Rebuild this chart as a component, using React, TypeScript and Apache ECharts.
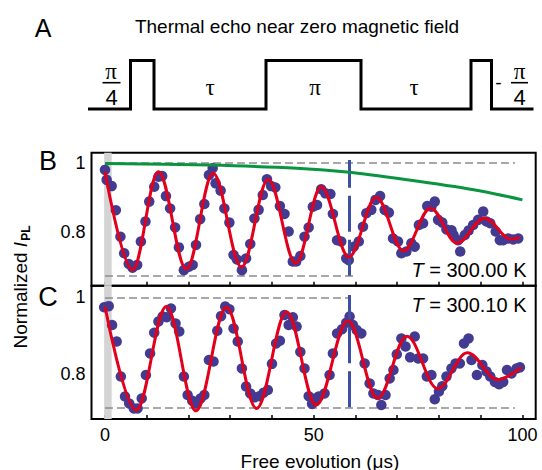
import React, { useEffect, useRef } from 'react';
import * as echarts from 'echarts';

const FONT = '"Liberation Sans", Arial, Helvetica, sans-serif';
const SERIF = '"Liberation Serif", "DejaVu Serif", "Times New Roman", serif';

// Axis ticks and labels
const xTicks = [0, 10, 20, 30, 40, 50, 60, 70, 80, 90, 100];
const xLabels = [0, 50, 100];
const yTicks = [0.7, 0.8, 0.9, 1.0];
const yLabels = [0.8, 1.0];

// Panel B (T = 300.00 K): measured points [time (µs), normalized I_PL]
const panelBPoints: [number, number][] = [
  [0.0, 0.979], [0.4, 0.95], [1.6, 0.932], [2.6, 0.862], [3.7, 0.785], [4.6, 0.737], [5.7, 0.706], [6.6, 0.695], [7.7, 0.703], [8.6, 0.771],
  [9.7, 0.829], [10.6, 0.887], [11.8, 0.93], [12.8, 0.959], [13.7, 0.961], [14.6, 0.903], [15.6, 0.867], [16.8, 0.812], [17.7, 0.754], [18.9, 0.688],
  [20.1, 0.698], [21.0, 0.703], [21.8, 0.761], [22.8, 0.836], [23.8, 0.88], [24.9, 0.964], [25.8, 0.984], [26.5, 0.94], [27.7, 0.919], [28.6, 0.867],
  [29.8, 0.826], [30.8, 0.732], [31.6, 0.719], [32.8, 0.688], [33.8, 0.722], [34.8, 0.764], [35.8, 0.838], [36.8, 0.863], [37.8, 0.906], [38.8, 0.952],
  [39.8, 0.932], [40.8, 0.928], [41.9, 0.874], [43.0, 0.851], [44.0, 0.8], [45.0, 0.713], [45.8, 0.713], [46.8, 0.729], [47.8, 0.785], [48.8, 0.812],
  [49.8, 0.872], [50.8, 0.877], [51.8, 0.923], [52.8, 0.911], [54.0, 0.909], [54.6, 0.851], [55.6, 0.775], [56.6, 0.771], [57.8, 0.722], [58.4, 0.717],
  [59.6, 0.756], [60.8, 0.771], [61.8, 0.814], [62.6, 0.853], [63.8, 0.863], [64.8, 0.892], [65.9, 0.903], [67.0, 0.863], [68.0, 0.855], [69.0, 0.78],
  [70.2, 0.771], [71.0, 0.737], [72.2, 0.742], [73.4, 0.766], [74.2, 0.756], [75.2, 0.819], [76.2, 0.824], [77.2, 0.874], [78.2, 0.872], [79.0, 0.887],
  [79.8, 0.834], [80.8, 0.826], [81.8, 0.806], [83.0, 0.804], [83.5, 0.79], [84.6, 0.775], [85.1, 0.742], [86.2, 0.79], [87.1, 0.803], [88.2, 0.819],
  [89.4, 0.834], [90.6, 0.858], [91.4, 0.829], [92.3, 0.824], [93.6, 0.8], [94.6, 0.775], [95.4, 0.775], [96.6, 0.78], [97.8, 0.777], [99.0, 0.78],
];

// Panel C (T = 300.10 K): measured points
const panelCPoints: [number, number][] = [
  [-0.2, 0.974], [0.9, 0.977], [1.7, 0.928], [2.8, 0.885], [3.8, 0.794], [4.8, 0.742], [5.8, 0.724], [6.9, 0.711], [7.8, 0.711], [8.8, 0.737],
  [9.8, 0.798], [10.8, 0.854], [11.8, 0.908], [12.8, 0.937], [13.8, 0.95], [14.8, 0.948], [15.8, 0.971], [16.9, 0.932], [17.8, 0.911], [18.9, 0.794],
  [19.8, 0.746], [20.9, 0.731], [21.8, 0.724], [22.9, 0.737], [23.8, 0.746], [24.9, 0.837], [26.0, 0.833], [26.9, 0.913], [27.8, 0.951], [28.8, 0.976],
  [29.8, 0.969], [30.8, 0.919], [31.8, 0.885], [32.8, 0.815], [33.8, 0.768], [34.8, 0.75], [35.8, 0.74], [37.0, 0.743], [38.0, 0.752], [39.0, 0.759],
  [40.0, 0.827], [41.0, 0.88], [41.9, 0.887], [43.0, 0.954], [44.0, 0.928], [45.0, 0.948], [45.9, 0.924], [46.8, 0.858], [47.8, 0.815], [48.8, 0.743],
  [49.6, 0.723], [50.4, 0.737], [51.2, 0.742], [52.6, 0.75], [53.8, 0.798], [54.6, 0.854], [55.6, 0.906], [56.8, 0.917], [57.8, 0.934], [58.6, 0.95],
  [59.4, 0.928], [60.3, 0.915], [61.4, 0.906], [62.2, 0.828], [63.4, 0.776], [64.3, 0.75], [65.4, 0.746], [66.2, 0.72], [67.2, 0.746], [68.2, 0.789],
  [69.1, 0.811], [69.9, 0.852], [71.0, 0.893], [72.0, 0.872], [73.1, 0.844], [74.2, 0.898], [75.0, 0.841], [76.2, 0.841], [77.1, 0.794], [78.2, 0.798],
  [79.0, 0.735], [80.0, 0.755], [80.8, 0.769], [81.8, 0.794], [83.0, 0.815], [84.0, 0.828], [85.0, 0.828], [86.0, 0.88], [87.1, 0.893], [87.8, 0.837],
  [89.1, 0.798], [90.4, 0.824], [91.4, 0.807], [92.3, 0.794], [93.4, 0.78], [94.4, 0.774], [95.4, 0.78], [96.3, 0.811], [97.4, 0.802], [98.6, 0.815], [99.4, 0.818],
];

// Fitted curves: extrema
const panelBFit: [number, number][] = [
  [0, 0.974], [6.6, 0.689], [12.8, 0.974], [19.5, 0.691], [25.9, 0.969], [32.7, 0.697], [39.1, 0.952], [45.7, 0.708],
  [51.8, 0.93], [58.4, 0.726], [65.0, 0.9], [71.5, 0.744], [78.0, 0.868], [84.3, 0.766], [90.9, 0.839], [97.3, 0.778], [99.3, 0.784],
];
const panelCFit: [number, number][] = [
  [0, 0.976], [7.5, 0.707], [14.7, 0.976], [21.8, 0.705], [29.1, 0.974], [36.3, 0.711], [43.5, 0.962], [50.6, 0.72],
  [58.2, 0.939], [65.3, 0.737], [72.3, 0.899], [79.7, 0.763], [86.8, 0.856], [94.1, 0.786], [99.7, 0.818],
];
// Envelope (green) in panel B
const panelBEnvelope: [number, number][] = [
  [0, 0.998], [25, 0.993], [46, 0.984], [58.6, 0.972], [75, 0.946], [90, 0.918], [100, 0.892],
];

// Reference markers
const echoTime = 58.6;
const bandStart = -0.2;
const bandEnd = 1.6;
const panelBDashed = [
  [0, 98.2, 1.0],
  [0, 59.5, 0.672],
];
const panelCDashed = [
  [0, 58.6, 1.0],
  [0, 98.2, 0.713],
];
const panelBEchoSpan = [0.672, 1.008];
const panelCEchoSpan = [0.714, 1.006];

const X_MIN = -3.23;
const X_MAX = 103.18;

export default function App() {
  const ref = useRef<HTMLDivElement>(null);

  useEffect(() => {
    document.body.style.margin = '0';
    if (!ref.current) return;
    const chart = echarts.init(ref.current, undefined, { renderer: 'svg' });

    const xAxis = (gridIndex: number, showLabels: boolean) => ({
      type: 'value',
      gridIndex,
      min: X_MIN,
      max: X_MAX,
      axisLine: { show: false },
      splitLine: { show: false },
      axisTick: {
        show: true,
        inside: true,
        length: 4,
        lineStyle: { color: '#000', width: 1.5 },
        customValues: xTicks,
      },
      axisLabel: {
        show: showLabels,
        customValues: xLabels,
        margin: 7,
        fontSize: 18,
        fontFamily: FONT,
        color: '#000',
        formatter: (v: number) => String(Math.round(v)),
      },
    });
    const yAxis = (gridIndex: number, min: number, max: number) => ({
      type: 'value',
      gridIndex,
      min,
      max,
      axisLine: { show: false },
      splitLine: { show: false },
      axisTick: {
        show: true,
        inside: true,
        length: 4,
        lineStyle: { color: '#000', width: 1.5 },
        customValues: yTicks,
      },
      axisLabel: {
        customValues: yLabels,
        margin: 6,
        fontSize: 18,
        fontFamily: FONT,
        color: '#000',
        formatter: (v: number) => (v > 0.99 ? '1' : v.toFixed(1)),
      },
    });

    const dashedLines = (rows: number[][]) =>
      rows.map((r) => [{ coord: [r[0], r[2]] }, { coord: [r[1], r[2]] }]);

    const panelSeries = (
      idx: number,
      points: [number, number][],
      fit: [number, number][],
      dashed: number[][],
      echoSpan: number[]
    ) => [
      {
        type: 'line',
        xAxisIndex: idx,
        yAxisIndex: idx,
        data: [],
        z: 1,
        silent: true,
        markArea: {
          silent: true,
          z: 1,
          itemStyle: { color: '#d4d4d4' },
          data: [[{ xAxis: bandStart }, { xAxis: bandEnd }]],
        },
        markLine: {
          silent: true,
          z: 2,
          symbol: ['none', 'none'],
          label: { show: false },
          lineStyle: { color: '#8c8c8c', width: 1.6, type: [8, 4] },
          data: dashedLines(dashed),
        },
      },
      {
        type: 'scatter',
        xAxisIndex: idx,
        yAxisIndex: idx,
        data: points,
        symbol: 'circle',
        symbolSize: 10.5,
        z: 3,
        silent: true,
        itemStyle: { color: '#433b91', opacity: 1 },
      },
      {
        type: 'line',
        xAxisIndex: idx,
        yAxisIndex: idx,
        data: [],
        z: 4,
        silent: true,
        markLine: {
          silent: true,
          z: 4,
          symbol: ['none', 'none'],
          label: { show: false },
          lineStyle: { color: '#3d4fa0', width: 3, type: [36, 8] },
          data: [[{ coord: [echoTime, echoSpan[0]] }, { coord: [echoTime, echoSpan[1]] }]],
        },
      },
      {
        type: 'line',
        xAxisIndex: idx,
        yAxisIndex: idx,
        data: fit,
        z: 5,
        silent: true,
        showSymbol: false,
        smooth: 0.36,
        smoothMonotone: 'x',
        lineStyle: { color: '#e3001b', width: 3 },
      },
    ];

    const tempText = (y: number, value: string) => ({
      type: 'text',
      x: 526.5,
      y,
      style: {
        text: '{i|T} = ' + value + ' K',
        rich: {
          i: { fontStyle: 'italic', fontSize: 20, fontFamily: FONT, fill: '#000' },
        },
        fontSize: 20,
        fontFamily: FONT,
        fill: '#000',
        align: 'right',
        textAlign: 'right',
        verticalAlign: 'middle',
        textVerticalAlign: 'middle',
      },
      z: 10,
    });

    const txt = (x: number, y: number, text: string, size: number, family = FONT, extra: any = {}) => ({
      type: 'text',
      x,
      y,
      style: {
        text,
        fontSize: size,
        fontFamily: family,
        fill: '#000',
        align: 'center',
        textAlign: 'center',
        verticalAlign: 'middle',
        textVerticalAlign: 'middle',
        ...extra,
      },
      z: 10,
    });

    const bar = (x1: number, x2: number, y: number) => ({
      type: 'line',
      shape: { x1, y1: y, x2, y2: y },
      style: { stroke: '#000', lineWidth: 1.6 },
      z: 10,
    });

    const pulse = [
      [88, 109], [130.5, 109], [130.5, 60.5], [154, 60.5], [154, 109], [266, 109], [266, 60.5],
      [361, 60.5], [361, 109], [471, 109], [471, 60.5], [491.5, 60.5], [491.5, 109], [533.5, 109],
    ];

    const option: any = {
      animation: false,
      grid: [
        { left: 91.5, right: 6.3, top: 152.7, height: 133, show: true, borderColor: '#000', borderWidth: 2, backgroundColor: 'transparent', containLabel: false, outerBoundsMode: 'none' },
        { left: 91.5, right: 6.3, top: 285.7, height: 133.3, show: true, borderColor: '#000', borderWidth: 2, backgroundColor: 'transparent', containLabel: false, outerBoundsMode: 'none' },
      ],
      xAxis: [xAxis(0, false), xAxis(1, true)],
      yAxis: [yAxis(0, 0.6428, 1.029), yAxis(1, 0.6837, 1.0302)],
      series: [
        ...panelSeries(0, panelBPoints, panelBFit, panelBDashed, panelBEchoSpan),
        {
          type: 'line',
          xAxisIndex: 0,
          yAxisIndex: 0,
          data: panelBEnvelope,
          z: 5,
          silent: true,
          showSymbol: false,
          smooth: 0.3,
          lineStyle: { color: '#0a9442', width: 3 },
        },
        ...panelSeries(1, panelCPoints, panelCFit, panelCDashed, panelCEchoSpan),
      ],
      graphic: [
        txt(43, 28, 'A', 25),
        txt(297, 26, 'Thermal echo near zero magnetic field', 19),
        {
          type: 'polyline',
          shape: { points: pulse },
          style: { stroke: '#000', lineWidth: 3, fill: null, lineJoin: 'miter' },
          z: 10,
        },
        txt(111, 71, 'π', 23, SERIF),
        bar(102.5, 120.5, 82.7),
        txt(111.5, 97.5, '4', 22),
        txt(210, 87, 'τ', 23, SERIF),
        txt(315, 87, 'π', 23, SERIF),
        txt(414, 87, 'τ', 23, SERIF),
        txt(498.5, 82, '-', 19),
        txt(519.5, 71, 'π', 23, SERIF),
        bar(511, 528, 82.7),
        txt(519.5, 97.5, '4', 22),
        txt(48, 161, 'B', 27),
        txt(48, 297, 'C', 27),
        {
          type: 'text',
          x: 20,
          y: 287,
          rotation: Math.PI / 2,
          style: {
            text: '{n|Normalized }{i|I}{s|PL}',
            rich: {
              n: { fontSize: 19, fontFamily: FONT, fill: '#000' },
              i: { fontSize: 19, fontFamily: FONT, fontStyle: 'italic', fill: '#000' },
              s: { fontSize: 12, fontFamily: FONT, fontWeight: 'bold', fill: '#000', padding: [12, 0, 0, 1] },
            },
            align: 'center',
            textAlign: 'center',
            verticalAlign: 'middle',
            textVerticalAlign: 'middle',
          },
          z: 10,
        },
        txt(320, 461, 'Free evolution (μs)', 19),
        tempText(270, '300.00'),
        tempText(305, '300.10'),
      ],
    };

    chart.setOption(option);
    return () => {
      chart.dispose();
    };
  }, []);

  return <div ref={ref} style={{ width: 542, height: 470 }} />;
}
